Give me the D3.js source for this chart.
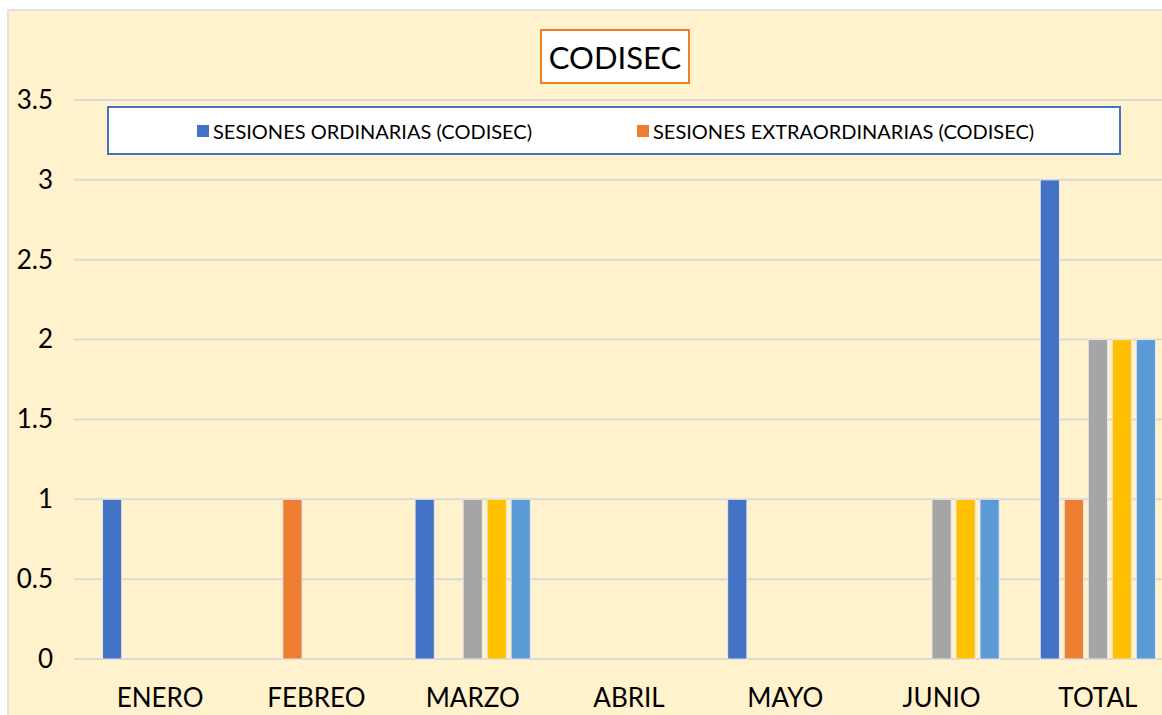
<!DOCTYPE html>
<meta charset="utf-8">
<style>
  body { margin: 0; background: #fff; }
  text { font-family: "Lato", "Open Sans", sans-serif; }
</style>
<body>
<script src="https://d3js.org/d3.v7.min.js"></script>
<script>

// data
var months = ["ENERO", "FEBREO", "MARZO", "ABRIL", "MAYO", "JUNIO", "TOTAL"];
var seriesNames = ["SESIONES ORDINARIAS (CODISEC)", "SESIONES EXTRAORDINARIAS (CODISEC)", "Serie3", "Serie4", "Serie5"];
var ordinarias      = [1, 0, 1, 0, 1, 0, 3];
var extraordinarias = [0, 1, 0, 0, 0, 0, 1];
var serie3          = [0, 0, 1, 0, 0, 1, 2];
var serie4          = [0, 0, 1, 0, 0, 1, 2];
var serie5          = [0, 0, 1, 0, 0, 1, 2];
var yTicks = [0, 0.5, 1, 1.5, 2, 2.5, 3, 3.5];
var colors = ["#4472C4", "#ED7D31", "#A5A5A5", "#FFC000", "#5B9BD5"];
var legendShown = 2;   // only the first two series appear in the legend

var allSeries = [ordinarias, extraordinarias, serie3, serie4, serie5];
var data = months.map(function(m, i) {
  return { month: m, values: allSeries.map(function(s, k) { return { key: k, value: s[i] }; }) };
});

var W = 1162, H = 715;
var svg = d3.select("body").append("svg")
  .attr("width", W)
  .attr("height", H);

// chart area background with border
svg.append("rect")
  .attr("x", 8).attr("y", 10)
  .attr("width", W + 10).attr("height", H)
  .attr("fill", "#FFF2CC")
  .attr("stroke", "#d9d9d9")
  .attr("stroke-width", 1.5);

// scales
var x0 = d3.scaleBand()
  .domain(months)
  .range([82, 1176])
  .padding(0);

var x1 = d3.scaleBand()
  .domain(d3.range(allSeries.length))
  .range([0, x0.bandwidth()])
  .paddingInner(0.2)
  .paddingOuter(0.855);

var y = d3.scaleLinear()
  .domain([0, 3.5])
  .range([659, 100]);

// gridlines
svg.append("g")
  .selectAll("line")
  .data(yTicks)
  .enter()
  .append("line")
    .attr("x1", 74)
    .attr("x2", W)
    .attr("y1", function(d) { return y(d); })
    .attr("y2", function(d) { return y(d); })
    .attr("stroke", "#d9d9d9")
    .attr("stroke-width", 2);

// y axis labels
var yAxis = svg.append("g")
  .attr("transform", "translate(59,0)")
  .call(d3.axisLeft(y).tickValues(yTicks).tickSize(0).tickPadding(6).tickFormat(function(d) { return d; }));
yAxis.select(".domain").remove();
yAxis.selectAll("text")
  .style("font-family", "Lato, sans-serif")
  .style("font-size", "26px")
  .attr("fill", "#000");

// bars
svg.append("g")
  .selectAll("g")
  .data(data)
  .enter()
  .append("g")
    .attr("transform", function(d) { return "translate(" + x0(d.month) + ",0)"; })
  .selectAll("rect")
  .data(function(d) { return d.values; })
  .enter()
  .append("rect")
    .attr("x", function(d) { return x1(d.key); })
    .attr("width", x1.bandwidth())
    .attr("y", function(d) { return y(d.value); })
    .attr("height", function(d) { return y(0) - y(d.value); })
    .attr("fill", function(d) { return colors[d.key]; })
    .attr("stroke", function(d) { return d.value > 0 ? "#e8e8e8" : "none"; })
    .attr("stroke-width", 1);

// x axis labels
var xAxis = svg.append("g")
  .attr("transform", "translate(0,659)")
  .call(d3.axisBottom(x0).tickSize(0).tickPadding(30));
xAxis.select(".domain").remove();
xAxis.selectAll("text")
  .style("font-family", "Lato, sans-serif")
  .style("font-size", "26px")
  .attr("fill", "#000");

// title box
var title = svg.append("g");
title.append("rect")
  .attr("x", 541).attr("y", 30)
  .attr("width", 148).attr("height", 53)
  .attr("fill", "#fff")
  .attr("stroke", "#ED7D31")
  .attr("stroke-width", 2);
title.append("text")
  .attr("x", 615).attr("y", 57)
  .attr("text-anchor", "middle")
  .attr("dominant-baseline", "central")
  .style("font-size", "31px")
  .attr("fill", "#000")
  .text("CODISEC");

// legend box
svg.append("rect")
  .attr("x", 108).attr("y", 107)
  .attr("width", 1012).attr("height", 47)
  .attr("fill", "#fff")
  .attr("stroke", "#4472C4")
  .attr("stroke-width", 2);

var legendX = [197, 637];
var legend = svg.selectAll(".legend")
  .data(seriesNames.slice(0, legendShown))
  .enter()
  .append("g")
    .attr("class", "legend")
    .attr("transform", function(d, i) { return "translate(" + legendX[i] + ",131)"; });
legend.append("rect")
  .attr("x", 0).attr("y", -6)
  .attr("width", 12).attr("height", 12)
  .attr("fill", function(d, i) { return colors[i]; });
legend.append("text")
  .attr("x", 16)
  .attr("dominant-baseline", "central")
  .style("font-size", "20px")
  .attr("fill", "#000")
  .text(function(d) { return d; });

</script>
</body>
